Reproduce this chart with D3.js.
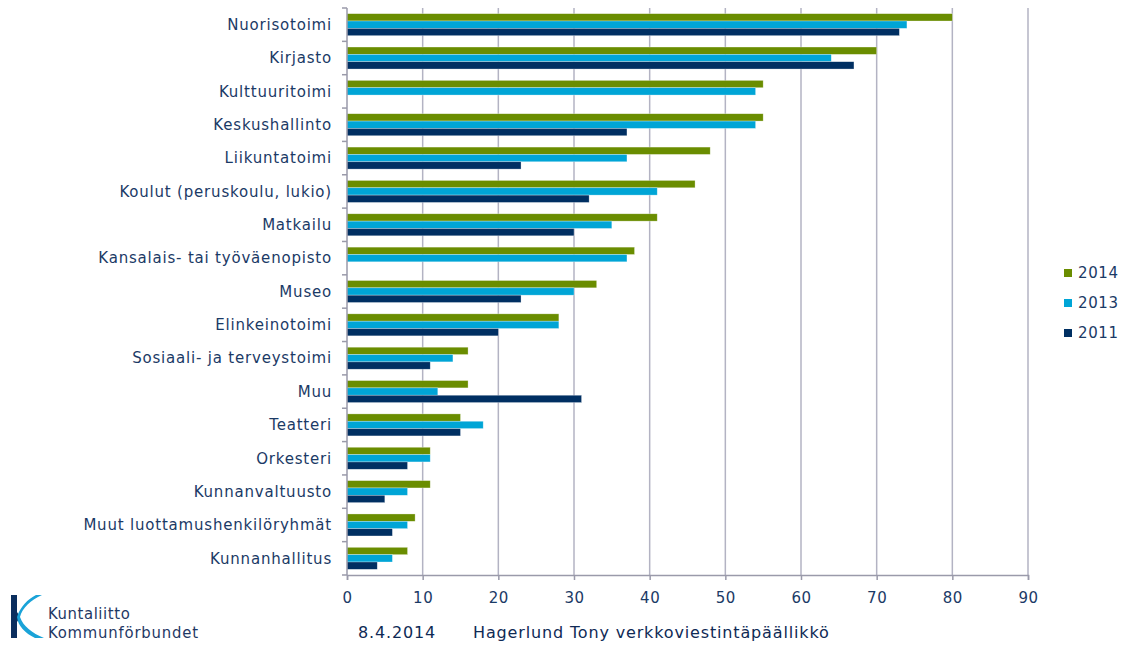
<!DOCTYPE html>
<html>
<head>
<meta charset="utf-8">
<script src="https://cdnjs.cloudflare.com/ajax/libs/d3/7.8.5/d3.min.js"></script>
<style>
  body { margin: 0; background: #fff; }
  svg text { font-family: "DejaVu Sans", Verdana, sans-serif; }
</style>
</head>
<body>
<div id="chart"></div>
<script>
// Data
var categories = ["Nuorisotoimi", "Kirjasto", "Kulttuuritoimi", "Keskushallinto", "Liikuntatoimi",
  "Koulut (peruskoulu, lukio)", "Matkailu", "Kansalais- tai työväenopisto", "Museo", "Elinkeinotoimi",
  "Sosiaali- ja terveystoimi", "Muu", "Teatteri", "Orkesteri", "Kunnanvaltuusto",
  "Muut luottamushenkilöryhmät", "Kunnanhallitus"];
var series = ["2014", "2013", "2011"];
var values2014 = [80, 70, 55, 55, 48, 46, 41, 38, 33, 28, 16, 16, 15, 11, 11, 9, 8];
var values2013 = [74, 64, 54, 54, 37, 41, 35, 37, 30, 28, 14, 12, 18, 11, 8, 8, 6];
var values2011 = [73, 67, null, 37, 23, 32, 30, null, 23, 20, 11, 31, 15, 8, 5, 6, 4];
var xTicks = [0, 10, 20, 30, 40, 50, 60, 70, 80, 90];
var colors = { "2014": "#6a8d00", "2013": "#00a5d6", "2011": "#002f62" };

var valuesBySeries = { "2014": values2014, "2013": values2013, "2011": values2011 };

var width = 1126, height = 645;
var margin = { top: 8, left: 347, right: 98, bottom: 70 };
var textColor = "#1b3a66";

var svg = d3.select("#chart").append("svg")
    .attr("width", width)
    .attr("height", height);

// Scales
var x = d3.scaleLinear().domain([0, 90]).range([margin.left, 1028]);
var y = d3.scaleBand().domain(categories)
    .range([margin.top, height - margin.bottom])
    .paddingInner(0.34).paddingOuter(0.17);
var ySub = d3.scaleBand().domain(series).range([0, y.bandwidth()]);

// Gridlines
svg.append("g").selectAll("line")
    .data(xTicks.slice(1))
    .enter().append("line")
    .attr("x1", d => x(d)).attr("x2", d => x(d))
    .attr("y1", margin.top).attr("y2", height - margin.bottom)
    .attr("stroke", "#b3b3c3")
    .attr("stroke-width", 1.5);

// Bars
var rows = [];
categories.forEach((c, i) => {
  series.forEach(s => {
    var v = valuesBySeries[s][i];
    if (v != null) rows.push({ cat: c, s: s, v: v });
  });
});

svg.append("g").selectAll("rect")
    .data(rows)
    .enter().append("rect")
    .attr("x", x(0))
    .attr("y", d => y(d.cat) + ySub(d.s))
    .attr("width", d => x(d.v) - x(0))
    .attr("height", ySub.bandwidth())
    .attr("fill", d => colors[d.s])
    .attr("stroke", "#ffffff")
    .attr("stroke-opacity", 0.5)
    .attr("stroke-width", 0.6);

// X axis
var xAxis = d3.axisBottom(x).tickValues(xTicks).tickSize(5).tickPadding(12);
var gx = svg.append("g")
    .attr("transform", "translate(0," + (height - margin.bottom) + ")")
    .call(xAxis);
gx.select(".domain").attr("stroke", "#9a9aaa").attr("stroke-width", 1.5);
gx.selectAll(".tick line").attr("stroke", "#9a9aaa").attr("stroke-width", 1.5);
gx.selectAll("text").attr("fill", textColor).attr("font-size", 15)
    .attr("font-family", "DejaVu Sans").attr("letter-spacing", 0.5);

// Y axis (ticks at category boundaries)
svg.append("line")
    .attr("x1", x(0)).attr("x2", x(0))
    .attr("y1", margin.top).attr("y2", height - margin.bottom)
    .attr("stroke", "#9a9aaa").attr("stroke-width", 1.5);
var step = y.step();
svg.append("g").selectAll("line")
    .data(d3.range(categories.length + 1))
    .enter().append("line")
    .attr("x1", x(0) - 5).attr("x2", x(0))
    .attr("y1", i => margin.top + i * step)
    .attr("y2", i => margin.top + i * step)
    .attr("stroke", "#9a9aaa").attr("stroke-width", 1.5);

svg.append("g").selectAll("text")
    .data(categories)
    .enter().append("text")
    .attr("x", 332)
    .attr("y", d => y(d) + y.bandwidth() / 2)
    .attr("dy", "0.35em")
    .attr("text-anchor", "end")
    .attr("fill", textColor)
    .attr("font-size", 15)
    .attr("letter-spacing", 0.8)
    .text(d => d);

// Legend
var legend = svg.append("g").selectAll("g")
    .data(series)
    .enter().append("g")
    .attr("transform", (d, i) => "translate(1064," + (273 + i * 30) + ")");
legend.append("rect")
    .attr("x", 0).attr("y", -4)
    .attr("width", 8).attr("height", 8)
    .attr("fill", d => colors[d]);
legend.append("text")
    .attr("x", 14).attr("dy", "0.35em")
    .attr("fill", textColor)
    .attr("font-size", 15)
    .attr("letter-spacing", 0.6)
    .text(d => d);

// Footer
svg.append("text")
    .attr("x", 358).attr("y", 638)
    .attr("fill", "#0f2a55")
    .attr("font-size", 16)
    .attr("letter-spacing", 0.85)
    .text("8.4.2014");
svg.append("text")
    .attr("x", 473).attr("y", 638)
    .attr("fill", "#0f2a55")
    .attr("font-size", 16)
    .attr("letter-spacing", 0.85)
    .text("Hagerlund Tony verkkoviestintäpäällikkö");

// Logo
var logo = svg.append("g").attr("transform", "translate(11,595)");
logo.append("path")
    .attr("d", "M0,0 L6,0 L6,17 L9,22 L6,27 L6,43 L0,43 Z")
    .attr("fill", "#0b2e5e");
logo.append("path")
    .attr("d", "M31,0 C20,5 11,13 9,22 C12,31 21,38 33,43 L24,43 C14,38 7,31 6,22 C9,12 17,4 25,0 Z")
    .attr("fill", "#1aa3d8");
svg.append("text")
    .attr("x", 48).attr("y", 619)
    .attr("fill", "#1f3864")
    .attr("font-size", 16.5)
    .attr("letter-spacing", 0.6)
    .attr("font-family", "DejaVu Sans Condensed, sans-serif")
    .attr("font-stretch", "condensed")
    .text("Kuntaliitto");
svg.append("text")
    .attr("x", 48).attr("y", 638)
    .attr("fill", "#1f3864")
    .attr("font-size", 16.5)
    .attr("letter-spacing", 0.8)
    .attr("font-family", "DejaVu Sans Condensed, sans-serif")
    .attr("font-stretch", "condensed")
    .text("Kommunförbundet");
</script>
</body>
</html>
